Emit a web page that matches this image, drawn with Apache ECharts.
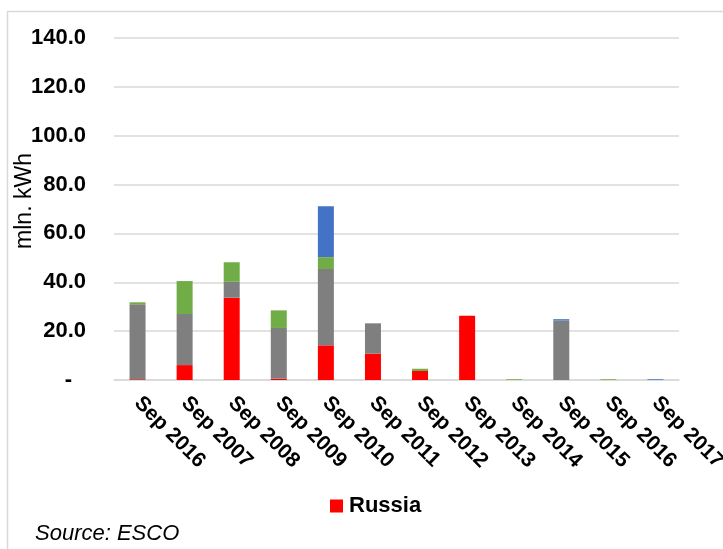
<!DOCTYPE html>
<html>
<head>
<meta charset="utf-8">
<script src="https://cdn.jsdelivr.net/npm/echarts@6/dist/echarts.min.js"></script>
<style>
    body { margin: 0; background: #fff; }
    #chart_main { width: 723px; height: 549px; }
</style>
</head>
<body>
<div id="chart_main"></div>
<script>
// periods on the x axis
var categories = ['Sep 2016', 'Sep 2007', 'Sep 2008', 'Sep 2009', 'Sep 2010', 'Sep 2011',
    'Sep 2012', 'Sep 2013', 'Sep 2014', 'Sep 2015', 'Sep 2016 ', 'Sep 2017'];
// stacked values, mln. kWh
var russia = [0.3, 6.1, 33.7, 0.5, 14.2, 10.8, 3.7, 26.3, 0, 0, 0, 0];
var grey = [30.7, 20.9, 6.5, 20.8, 31.2, 12.4, 0, 0, 0, 24.3, 0, 0];
var green = [0.8, 13.5, 8.0, 7.2, 4.9, 0, 0.9, 0, 0.3, 0, 0.3, 0];
var blue = [0, 0, 0, 0, 20.8, 0, 0, 0, 0, 0.6, 0, 0.3];
var yTicks = { min: 0, max: 140, interval: 20 };

var font = '"Liberation Sans", Arial, sans-serif';

function barSeries(name, data, color) {
    return {
        name: name,
        type: 'bar',
        stack: 'total',
        barWidth: 16,
        itemStyle: { color: color },
        data: data
    };
}

var myChart = echarts.init(document.getElementById('chart_main'));
var option = {
    animation: false,
    textStyle: { fontFamily: font },
    graphic: [{
        type: 'rect',
        shape: { x: 7.5, y: 11.5, width: 760, height: 600 },
        style: { fill: 'none', stroke: '#d9d9d9', lineWidth: 1.5 },
        silent: true
    }],
    title: {
        text: 'Source: ESCO',
        left: 30,
        top: 518,
        textStyle: { fontFamily: font, fontStyle: 'italic', fontWeight: 'normal', fontSize: 22, color: '#000' }
    },
    legend: {
        data: ['Russia'],
        left: 325,
        top: 490,
        icon: 'rect',
        itemWidth: 13,
        itemHeight: 13,
        itemGap: 6,
        textStyle: { fontFamily: font, fontWeight: 'bold', fontSize: 22, color: '#000', padding: [0, 0, 0, 1] }
    },
    grid: {
        left: 114,
        right: 44,
        top: 38,
        bottom: 169,
        outerBoundsMode: 'none'
    },
    xAxis: {
        type: 'category',
        data: categories,
        axisLine: { lineStyle: { color: '#d9d9d9', width: 1.5 } },
        axisTick: { show: false },
        axisLabel: {
            rotate: -45,
            margin: 20,
            interval: 0,
            color: '#000',
            fontFamily: font,
            fontWeight: 'bold',
            fontSize: 21
        }
    },
    yAxis: {
        type: 'value',
        min: yTicks.min,
        max: yTicks.max,
        interval: yTicks.interval,
        name: 'mln. kWh',
        nameLocation: 'middle',
        nameGap: 78,
        nameMoveOverlap: false,
        nameTextStyle: { fontFamily: font, fontSize: 23, color: '#000', padding: [0, 0, 0, 16] },
        axisLine: { show: false },
        axisTick: { show: false },
        splitLine: { lineStyle: { color: '#d9d9d9', width: 1.5 } },
        axisLabel: {
            margin: 28,
            color: '#000',
            fontFamily: font,
            fontWeight: 'bold',
            fontSize: 22,
            formatter: function (v) {
                return v === 0 ? '{d|-}' : v.toFixed(1);
            },
            rich: {
                d: { fontFamily: font, fontWeight: 'bold', fontSize: 22, color: '#000', padding: [0, 14, 0, 0] }
            }
        }
    },
    series: [
        barSeries('Russia', russia, '#ff0000'),
        barSeries('Other 1', grey, '#7f7f7f'),
        barSeries('Other 2', green, '#70ad47'),
        barSeries('Other 3', blue, '#4472c4')
    ]
};
myChart.setOption(option);
</script>
</body>
</html>
